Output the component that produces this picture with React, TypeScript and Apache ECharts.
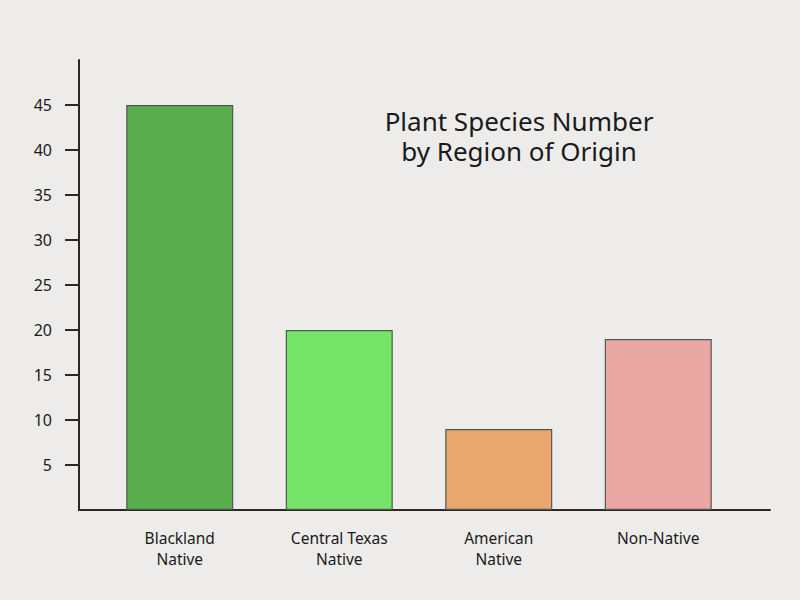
import React, { useEffect, useRef } from "react";
import * as echarts from "echarts";

const categories = ["Blackland\nNative", "Central Texas\nNative", "American\nNative", "Non-Native"];
const speciesCounts = [45, 20, 9, 19];
const barColors = ["#5aad4c", "#76e468", "#e9a66d", "#eaa7a3"];
const yTickValues = [5, 10, 15, 20, 25, 30, 35, 40, 45];
const titleLines = ["Plant Species Number", "by Region of Origin"];

export default function App() {
  const ref = useRef<HTMLDivElement>(null);
  useEffect(() => {
    document.body.style.margin = "0";
    if (!ref.current) return;
    const chart = echarts.init(ref.current, null, { renderer: "svg" });
    const font = "'Noto Sans', 'Open Sans', sans-serif";
    const titleStyle = {
      fontFamily: font,
      fontSize: 26,
      lineHeight: 26,
      fontWeight: "normal",
      color: "#1a1a1a",
    };
    chart.setOption({
      animation: false,
      backgroundColor: "#edecea",
      title: titleLines.map((t, i) => ({
        text: t,
        left: 519,
        top: 108 + i * 30,
        textAlign: "center",
        padding: 0,
        textStyle: titleStyle,
      })),
      grid: [
        { left: 79, right: 30, top: 60, bottom: 90 },
        { left: 100, right: 62, top: 60, bottom: 90 },
      ],
      xAxis: [
        {
          gridIndex: 0,
          type: "value",
          min: 0,
          max: 1,
          axisLine: { show: true, onZero: false, lineStyle: { color: "#2b2828", width: 2 } },
          axisTick: { show: false },
          axisLabel: { show: false },
          splitLine: { show: false },
        },
        {
          gridIndex: 1,
          type: "category",
          data: categories,
          axisLine: { show: false },
          axisTick: { show: false },
          axisLabel: {
            margin: 17,
            fontFamily: font,
            fontSize: 15.5,
            color: "#1a1a1a",
            lineHeight: 21,
            verticalAlign: "top",
          },
        },
      ],
      yAxis: [
        {
          gridIndex: 0,
          type: "value",
          min: 0,
          max: 50,
          interval: 5,
          axisLine: { show: true, lineStyle: { color: "#2b2828", width: 2 } },
          axisTick: {
            show: true,
            length: 14,
            customValues: yTickValues,
            lineStyle: { color: "#2b2828", width: 2 },
          },
          axisLabel: {
            margin: 27,
            customValues: yTickValues,
            fontFamily: font,
            fontSize: 16,
            color: "#1a1a1a",
          },
          splitLine: { show: false },
        },
        {
          gridIndex: 1,
          type: "value",
          min: 0,
          max: 50,
          show: false,
        },
      ],
      series: [
        {
          type: "bar",
          xAxisIndex: 1,
          yAxisIndex: 1,
          barWidth: 107,
          data: speciesCounts.map((v, i) => ({
            value: v,
            itemStyle: { color: barColors[i] },
          })),
          itemStyle: { borderColor: "#4f5a4c", borderWidth: 1.2 },
        },
      ],
    });
    return () => chart.dispose();
  }, []);
  return <div ref={ref} style={{ width: 800, height: 600 }} />;
}
